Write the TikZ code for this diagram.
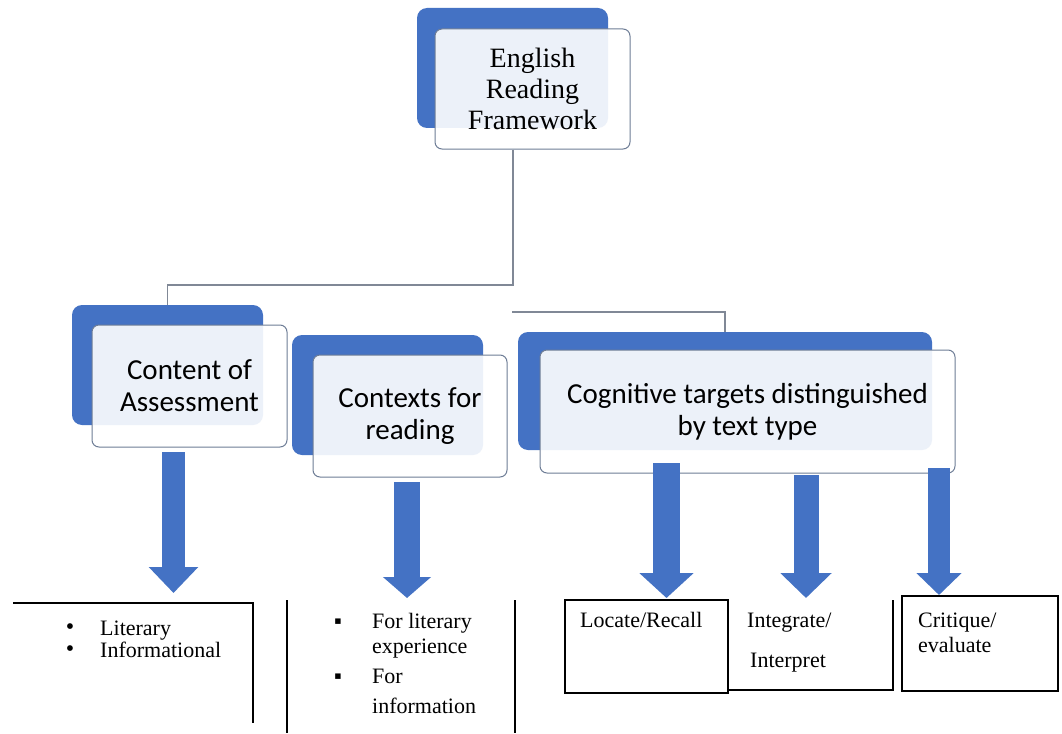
\documentclass[tikz,border=0pt]{standalone}
\usepackage{fontspec}
\setmainfont{Liberation Serif}
\newfontfamily\carlito{Carlito}
\usetikzlibrary{arrows.meta}
\definecolor{ablue}{HTML}{4472C4}
\definecolor{bordc}{HTML}{6E7D96}
\definecolor{connc}{HTML}{808896}
\begin{document}
\begin{tikzpicture}[x=1pt,y=-1pt,
  backbox/.style={fill=ablue, draw=none, rounded corners=10pt, inner sep=0pt},
  frontbox/.style={fill=white, fill opacity=0.9, text opacity=1, draw=bordc, draw opacity=1,
     line width=1pt, rounded corners=7pt, inner sep=0pt, align=center},
  topfont/.style={font=\rmfamily\fontsize{28}{31}\selectfont},
  midfont/.style={font=\carlito\fontsize{29}{32}\selectfont},
  conn/.style={draw=connc, line width=1.2pt},
  listtxt/.style={anchor=base west, inner sep=0pt, font=\rmfamily\fontsize{22}{24}\selectfont},
  bullettxt/.style={anchor=center, inner sep=0pt, font=\rmfamily\fontsize{24}{24}\selectfont},
  listbord/.style={draw=black, line width=1.4pt},
  blockarrow/.style={draw=ablue, line width=#1}
]
\useasboundingbox[fill=white] (0,0) rectangle (1062,733);

% top box
\node[backbox, minimum width=191pt, minimum height=120pt] (topb) at (512.5,68) {};
\node[frontbox, topfont, minimum width=195pt, minimum height=120pt] (top) at (532.5,89)
  {English\\Reading\\Framework};

% connector junctions
\coordinate (j1) at (513,285);
\coordinate (j2) at (512,312);

% content box
\node[backbox, minimum width=191pt, minimum height=120pt] (cb) at (167.5,365) {};
\node[frontbox, midfont, minimum width=195pt, minimum height=122pt] (content) at (189.5,386)
  {Content of\\Assessment};

% contexts box
\node[backbox, minimum width=191pt, minimum height=120pt] (xb) at (387.5,395) {};
\node[frontbox, midfont, minimum width=194pt, minimum height=122pt] (contexts) at (410,416)
  {Contexts for\\reading};

% cognitive box
\node[backbox, minimum width=414pt, minimum height=118pt] (gb) at (725,391) {};
\node[frontbox, midfont, minimum width=415pt, minimum height=123pt] (cog) at (747.5,411.5)
  {Cognitive targets distinguished\\by text type};

\draw[conn] (top.south -| j1) -- (j1) -| (cb.north);
\draw[conn] (j2) -| (gb.north);

% block arrows
\coordinate (a1s) at (173.5,452); \coordinate (a1e) at (173.5,593);
\coordinate (a2s) at (407,482);   \coordinate (a2e) at (407,598);
\coordinate (a3s) at (666.5,463); \coordinate (a3e) at (666.5,598);
\coordinate (a4s) at (806,475);   \coordinate (a4e) at (806,598);
\coordinate (a5s) at (939,468);   \coordinate (a5e) at (939,595);
\draw[blockarrow=23pt, -{Triangle[width=48pt,length=26pt]}] (a1s) -- (a1e);
\draw[blockarrow=26pt, -{Triangle[width=47pt,length=21pt]}] (a2s) -- (a2e);
\draw[blockarrow=27pt, -{Triangle[width=53pt,length=25pt]}] (a3s) -- (a3e);
\draw[blockarrow=25pt, -{Triangle[width=50pt,length=25pt]}] (a4s) -- (a4e);
\draw[blockarrow=22pt, -{Triangle[width=44pt,length=22pt]}] (a5s) -- (a5e);

% bottom list borders
\draw[listbord] (13,603) -| (253,723);
\draw[listbord] (287,600) -- (287,733);
\draw[listbord] (515,600) -- (515,733);
\draw[listbord] (565,600) rectangle (728,693);
\draw[listbord] (728,690) -| (893,600);
\draw[listbord] (902,596) rectangle (1058,691);

% list texts
\node[bullettxt] (b1) at (70,629) {•};
\node[listtxt] (t1) at (100,635) {Literary};
\node[bullettxt] (b2) at (70,651) {•};
\node[listtxt] (t2) at (100,657) {Informational};

\node[listtxt] (b3) at (334,628) {▪};
\node[listtxt] (t3) at (372,628) {For literary};
\node[listtxt] (t4) at (372,653) {experience};
\node[listtxt] (b4) at (334,683) {▪};
\node[listtxt] (t5) at (372,683) {For};
\node[listtxt] (t6) at (372,713) {information};

\node[listtxt] (t7) at (580,627) {Locate/Recall};
\node[listtxt] (t8) at (747,627) {Integrate/};
\node[listtxt] (t9) at (750,667) {Interpret};
\node[listtxt] (t10) at (918,627) {Critique/};
\node[listtxt] (t11) at (918,652) {evaluate};
\end{tikzpicture}
\end{document}
